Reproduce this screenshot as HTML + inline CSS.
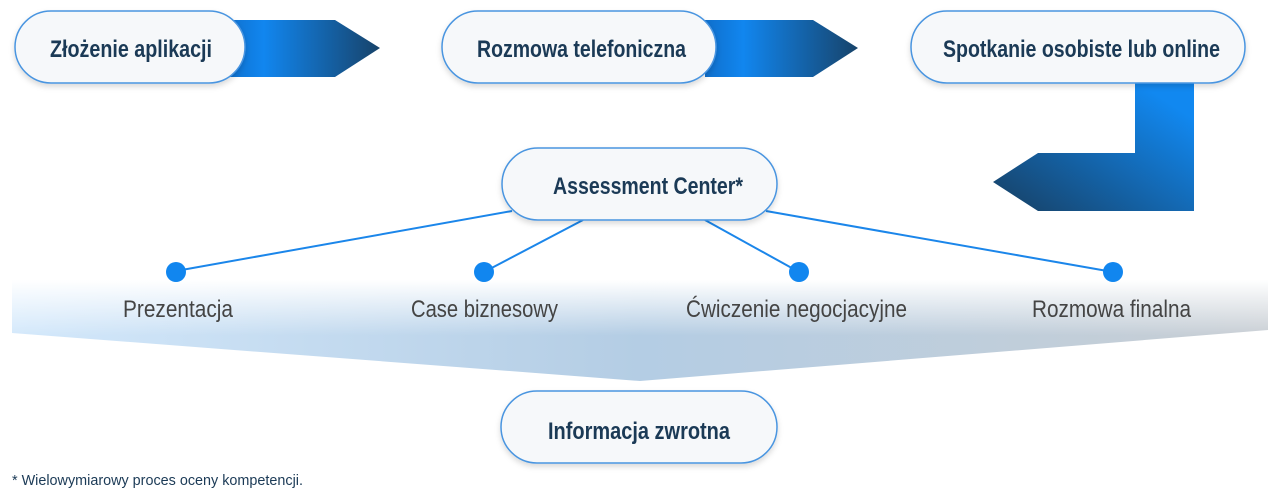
<!DOCTYPE html>
<html><head><meta charset="utf-8"><style>
html,body{margin:0;padding:0;background:#fff;width:1280px;height:491px;overflow:hidden}
svg{display:block}
.p{font-family:"Liberation Sans Narrow","Liberation Sans",sans-serif;font-weight:bold;fill:#1b3a56;font-size:24px}
.l{font-family:"Liberation Sans Narrow","Liberation Sans",sans-serif;fill:#444;font-size:24px}
</style></head><body>
<svg width="1280" height="491" viewBox="0 0 1280 491" xmlns="http://www.w3.org/2000/svg">
<defs>
<linearGradient id="ar" x1="0" y1="0" x2="1" y2="0">
<stop offset="0" stop-color="#0f6fcc"/><stop offset="0.25" stop-color="#1186ef"/><stop offset="1" stop-color="#17436a"/>
</linearGradient>
<linearGradient id="la" x1="1" y1="0" x2="0" y2="1">
<stop offset="0.15" stop-color="#1188f0"/><stop offset="1" stop-color="#173f62"/>
</linearGradient>
<linearGradient id="bh" x1="0" y1="0" x2="1" y2="0">
<stop offset="0" stop-color="#d3e8fb"/><stop offset="0.5" stop-color="#b4cde4"/><stop offset="1" stop-color="#c8ced4"/>
</linearGradient>
<linearGradient id="bv" x1="0" y1="0" x2="0" y2="1">
<stop offset="0" stop-color="#fff" stop-opacity="1"/><stop offset="0.55" stop-color="#fff" stop-opacity="0"/>
</linearGradient>
<filter id="sh" x="-10%" y="-20%" width="120%" height="150%"><feDropShadow dx="0" dy="3" stdDeviation="3" flood-color="#000" flood-opacity="0.15"/></filter>
</defs>
<!-- band -->
<polygon points="12,280 1268,280 1268,330 640,381 12,333" fill="url(#bh)"/>
<polygon points="12,280 1268,280 1268,330 640,381 12,333" fill="url(#bv)"/>
<!-- arrows -->
<polygon points="225,20 335,20 380,48 335,77 225,77" fill="url(#ar)"/>
<polygon points="705,20 813,20 858,48 813,77 705,77" fill="url(#ar)"/>
<polygon points="1135,80 1194,80 1194,211 1038,211 993,182 1038,153 1135,153" fill="url(#la)"/>
<!-- lines -->
<g stroke="#1b86ea" stroke-width="2">
<line x1="512" y1="211" x2="176" y2="271"/>
<line x1="583" y1="220" x2="484" y2="272"/>
<line x1="705" y1="220" x2="799" y2="272"/>
<line x1="766" y1="211" x2="1113" y2="272"/>
</g>
<g fill="#1186ef">
<circle cx="176" cy="272" r="10"/><circle cx="484" cy="272" r="10"/><circle cx="799" cy="272" r="10"/><circle cx="1113" cy="272" r="10"/>
</g>
<!-- pills -->
<g fill="#f6f8fa" stroke="#4a95e0" stroke-width="1.5" filter="url(#sh)">
<rect x="15" y="11" width="230" height="72" rx="36"/>
<rect x="442" y="11" width="274" height="72" rx="36"/>
<rect x="911" y="11" width="334" height="72" rx="36"/>
<rect x="502" y="148" width="275" height="72" rx="36"/>
<rect x="501" y="391" width="276" height="72" rx="36"/>
</g>
<text class="p" x="50" y="57" textLength="162" lengthAdjust="spacingAndGlyphs">Złożenie aplikacji</text>
<text class="p" x="477" y="57" textLength="209" lengthAdjust="spacingAndGlyphs">Rozmowa telefoniczna</text>
<text class="p" x="943" y="57" textLength="277" lengthAdjust="spacingAndGlyphs">Spotkanie osobiste lub online</text>
<text class="p" x="553" y="194" textLength="190" lengthAdjust="spacingAndGlyphs">Assessment Center*</text>
<text class="p" x="548" y="439" textLength="182" lengthAdjust="spacingAndGlyphs">Informacja zwrotna</text>
<text class="l" x="123" y="317" textLength="110" lengthAdjust="spacingAndGlyphs">Prezentacja</text>
<text class="l" x="411" y="317" textLength="147" lengthAdjust="spacingAndGlyphs">Case biznesowy</text>
<text class="l" x="686" y="317" textLength="221" lengthAdjust="spacingAndGlyphs">Ćwiczenie negocjacyjne</text>
<text class="l" x="1032" y="317" textLength="159" lengthAdjust="spacingAndGlyphs">Rozmowa finalna</text>
<text x="12" y="485" font-family="'Liberation Sans Narrow','Liberation Sans',sans-serif" font-size="15" fill="#1b3a56" textLength="291" lengthAdjust="spacingAndGlyphs">* Wielowymiarowy proces oceny kompetencji.</text>
</svg>
</body></html>
